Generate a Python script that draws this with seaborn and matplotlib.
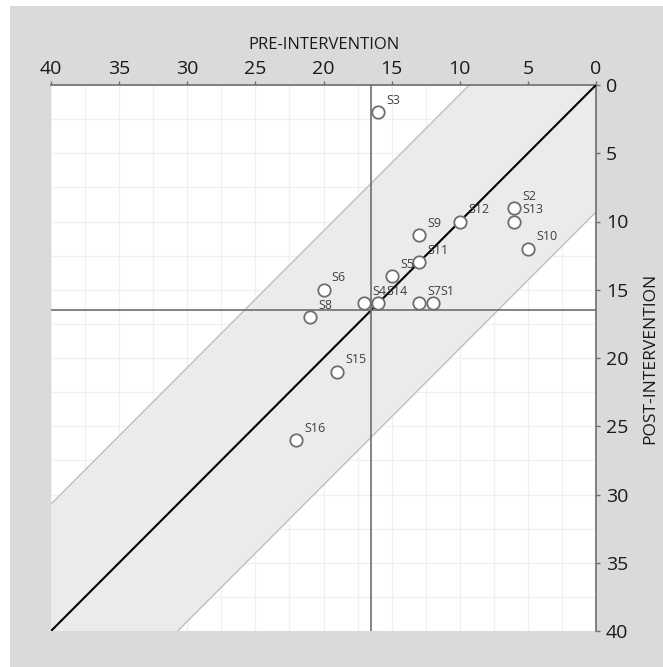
import numpy as np
import pandas as pd
import matplotlib
matplotlib.use("Agg")
import matplotlib.pyplot as plt
import seaborn as sns
from matplotlib.patches import Rectangle

# subject scores
subjects = ["S1", "S2", "S3", "S4", "S5", "S6", "S7", "S8",
            "S9", "S10", "S11", "S12", "S13", "S14", "S15", "S16"]
pre = [12, 6, 16, 17, 15, 20, 13, 21, 13, 5, 13, 10, 6, 16, 19, 22]
post = [16, 9, 2, 16, 14, 15, 16, 17, 11, 12, 13, 10, 10, 16, 21, 26]
cutoff = 16.5        # clinical cut-off (crosshair)
rci = 9.3            # half-width of reliable change band
ticks = [0, 5, 10, 15, 20, 25, 30, 35, 40]

df = pd.DataFrame({"subject": subjects, "pre": pre, "post": post})

sns.set_theme(style="white")
plt.rcParams["font.family"] = ["Open Sans", "DejaVu Sans"]

fig = plt.figure(figsize=(6.63, 6.67), dpi=100)
fig.patch.set_facecolor("white")
fig.patches.append(Rectangle((10 / 663, 0), 1 - 10 / 663, 1 - 6 / 667,
                             transform=fig.transFigure, facecolor="#dadada",
                             edgecolor="none", zorder=-10))
ax = fig.add_axes([51 / 663, 1 - 631 / 667, 545 / 663, 546 / 667])
ax.set_facecolor("white")

# band and identity line
xs = np.array([0, 40])
ax.fill_between(xs, xs - rci, xs + rci, color="#ebebeb", zorder=1)
ax.plot(xs, xs - rci, color="#bcbcbc", lw=0.9, zorder=2)
ax.plot(xs, xs + rci, color="#bcbcbc", lw=0.9, zorder=2)
sns.lineplot(x=xs, y=xs, color="black", lw=1.5, ax=ax, zorder=3)
ax.axvline(cutoff, color="#6e6e6e", lw=1.2, zorder=3)
ax.axhline(cutoff, color="#6e6e6e", lw=1.2, zorder=3)

sns.scatterplot(data=df, x="pre", y="post", s=80, facecolor="white",
                edgecolor="#6e6e6e", linewidth=1.3, ax=ax, zorder=4)
for s, x, y in zip(subjects, pre, post):
    ax.annotate(s, (x, y), xytext=(6, 6), textcoords="offset points",
                fontsize=9, color="#404040", zorder=5)

ax.set_xlim(40, 0)
ax.set_ylim(40, 0)
ax.set_xticks(np.arange(0, 41, 2.5), minor=True)
ax.set_yticks(np.arange(0, 41, 2.5), minor=True)
ax.grid(True, which="both", color="#f0f0f0", lw=0.9, zorder=0)
ax.set_axisbelow(True)

ax.xaxis.tick_top()
ax.xaxis.set_label_position("top")
ax.yaxis.tick_right()
ax.yaxis.set_label_position("right")
ax.set_xticks(ticks)
ax.set_yticks(ticks)
ax.set_xticklabels([str(t) for t in ticks])
ax.set_yticklabels([str(t) for t in ticks])
ax.tick_params(axis="both", which="major", labelsize=14, length=3, width=1,
               color="#6e6e6e", labelcolor="#1a1a1a", pad=2,
               top=True, right=True, bottom=False, left=False)
ax.tick_params(axis="y", pad=4)
ax.tick_params(which="minor", length=0)
ax.set_xlabel("PRE-INTERVENTION", fontsize=12, color="#1a1a1a", labelpad=8)
ax.set_ylabel("POST-INTERVENTION", fontsize=12.5, color="#1a1a1a", labelpad=10,
              rotation=90)

for side in ["bottom", "left"]:
    ax.spines[side].set_visible(False)
for side in ["top", "right"]:
    ax.spines[side].set_color("#6e6e6e")
    ax.spines[side].set_linewidth(1.2)

fig.savefig("out.png", dpi=100)
